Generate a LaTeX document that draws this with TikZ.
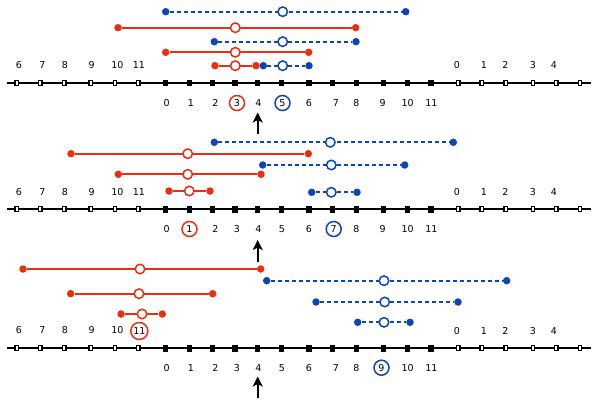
\documentclass[tikz,border=0pt]{standalone}
\usepackage{fontspec}
\setmainfont{DejaVu Sans}
\usetikzlibrary{arrows.meta}
\definecolor{rd}{RGB}{232,48,16}
\definecolor{bl}{RGB}{12,70,180}
\newcommand\ivl[7]{%
  \node[dotnode,fill=#2] (#1a) at (#5,#4) {};
  \node[dotnode,fill=#2] (#1b) at (#6,#4) {};
  \draw[#3,draw=#2] (#1a) -- (#1b);
  \node[ringnode,draw=#2] (#1c) at (#7,#4) {};
}
\newcommand\numaxis[2]{%
  \coordinate (#1L) at (7,#2);
  \coordinate (#1R) at (591,#2);
  \draw[axisline] (#1L) -- (#1R);
  \foreach \x [count=\k] in {16.7,40.3,64.3,90.7,115,138.3,165.7,189.3,212.7,235,257.7,281.7,309,332.7,356.3,383.3,407.3,431,458.3,481.7,505.7,533,556.3,580}{%
    \ifnum\k<7 \node[tickopen] (#1t\k) at (\x,#2) {};
    \else\ifnum\k>18 \node[tickopen] (#1t\k) at (\x,#2) {};
    \else \node[tickfill] (#1t\k) at (\x,#2) {};
    \fi\fi
  }
  \foreach \x/\t in {457/0,484/1,505.5/2,533/3,554/4}{%
    \node[lbl] (#1r\t) at (\x,#2-17.7) {\t};
  }
}
\begin{document}
\begin{tikzpicture}[x=1pt,y=-1pt,
  axisline/.style={line width=1.8pt,black},
  tickopen/.style={draw=black,fill=white,line width=1.1pt,minimum width=3.4pt,minimum height=5.2pt,inner sep=0pt},
  tickfill/.style={fill=black,minimum width=5.4pt,minimum height=6.6pt,inner sep=0pt},
  lbl/.style={font=\fontsize{9.5}{11}\selectfont,inner sep=0pt},
  circlbl/.style={lbl,circle,draw,line width=1.5pt,minimum size=15pt},
  dotnode/.style={circle,minimum size=7.5pt,inner sep=0pt},
  ringnode/.style={circle,fill=white,line width=1.5pt,minimum size=9.5pt,inner sep=0pt},
  solidseg/.style={line width=2pt},
  dashseg/.style={line width=2pt,dash pattern=on 4pt off 3pt},
  upar/.style={line width=2.2pt,-{Stealth[length=10pt,width=10pt,inset=2.5pt]}}
]
\fill[white] (0,0) rectangle (598,405);
\useasboundingbox (0,0) rectangle (598,405);

% ---------- panel 1 ----------
\numaxis{A}{83}
\foreach \x/\t in {19/6,42.3/7,65/8,91.7/9,117.3/10,139/11}{\node[lbl] (Au\t) at (\x,65.3) {\t};}
\foreach \x/\t in {166.7/0,191/1,215.3/2,258.3/4,309/6,336/7,356.3/8,382.7/9,407.7/10,431.3/11}{\node[lbl] (Ad\t) at (\x,103) {\t};}
\node[circlbl,draw=rd] (Ad3) at (237,103) {3};
\node[circlbl,draw=bl] (Ad5) at (282.5,103) {5};
\ivl{A1}{bl}{dashseg}{11.7}{165.7}{405.7}{282.7}
\ivl{A2}{rd}{solidseg}{27.7}{118}{355.7}{235.3}
\ivl{A3}{bl}{dashseg}{41.7}{214.3}{356}{282.7}
\ivl{A4}{rd}{solidseg}{52.3}{165.7}{308.7}{235.3}
\ivl{A5}{rd}{solidseg}{65.7}{215}{256}{235.3}
\ivl{A6}{bl}{dashseg}{65.7}{263.3}{309}{282.7}
\coordinate (Aarr) at (257.7,133.5);
\draw[upar] (Aarr) -- ++(0,-21);

% ---------- panel 2 ----------
\numaxis{B}{209.3}
\foreach \x/\t in {19/6,42.3/7,65/8,91.7/9,117.3/10,139/11}{\node[lbl] (Bu\t) at (\x,191.8) {\t};}
\foreach \x/\t in {166.7/0,215.3/2,237/3,258.3/4,282/5,309/6,356.3/8,382.7/9,407.7/10,431.3/11}{\node[lbl] (Bd\t) at (\x,229) {\t};}
\node[circlbl,draw=rd] (Bd1) at (189.5,229) {1};
\node[circlbl,draw=bl] (Bd7) at (333.7,229) {7};
\ivl{B1}{bl}{dashseg}{142.3}{214.3}{453.3}{330.3}
\ivl{B2}{rd}{solidseg}{153.7}{71}{308.3}{187.7}
\ivl{B3}{bl}{dashseg}{165}{262.7}{404.7}{331.3}
\ivl{B4}{rd}{solidseg}{174.3}{118.3}{261}{187.7}
\ivl{B5}{rd}{solidseg}{191}{169}{210}{189.3}
\ivl{B6}{bl}{dashseg}{192.3}{311.7}{357}{331.3}
\coordinate (Barr) at (257.7,262);
\draw[upar] (Barr) -- ++(0,-22);

% ---------- panel 3 ----------
\numaxis{C}{348.3}
\foreach \x/\t in {19/6,42.3/7,65/8,91.7/9,117.3/10}{\node[lbl] (Cu\t) at (\x,330.5) {\t};}
\node[circlbl,draw=rd,minimum size=17pt] (Cu11) at (139.3,331) {11};
\foreach \x/\t in {166.7/0,191/1,215.3/2,237/3,258.3/4,282/5,309/6,336/7,356.3/8,407.7/10,431.3/11}{\node[lbl] (Cd\t) at (\x,367.7) {\t};}
\node[circlbl,draw=bl] (Cd9) at (381.5,367.7) {9};
\ivl{C1}{rd}{solidseg}{269}{23}{260.7}{140}
\ivl{C2}{bl}{dashseg}{280.7}{266.7}{506.7}{384}
\ivl{C3}{rd}{solidseg}{293.7}{70.7}{212.7}{139}
\ivl{C4}{bl}{dashseg}{302}{316}{458}{384.7}
\ivl{C5}{rd}{solidseg}{314}{121}{162.3}{142}
\ivl{C6}{bl}{dashseg}{322.3}{357.7}{410}{384}
\coordinate (Carr) at (257.7,398);
\draw[upar] (Carr) -- ++(0,-21.5);
\end{tikzpicture}
\end{document}
